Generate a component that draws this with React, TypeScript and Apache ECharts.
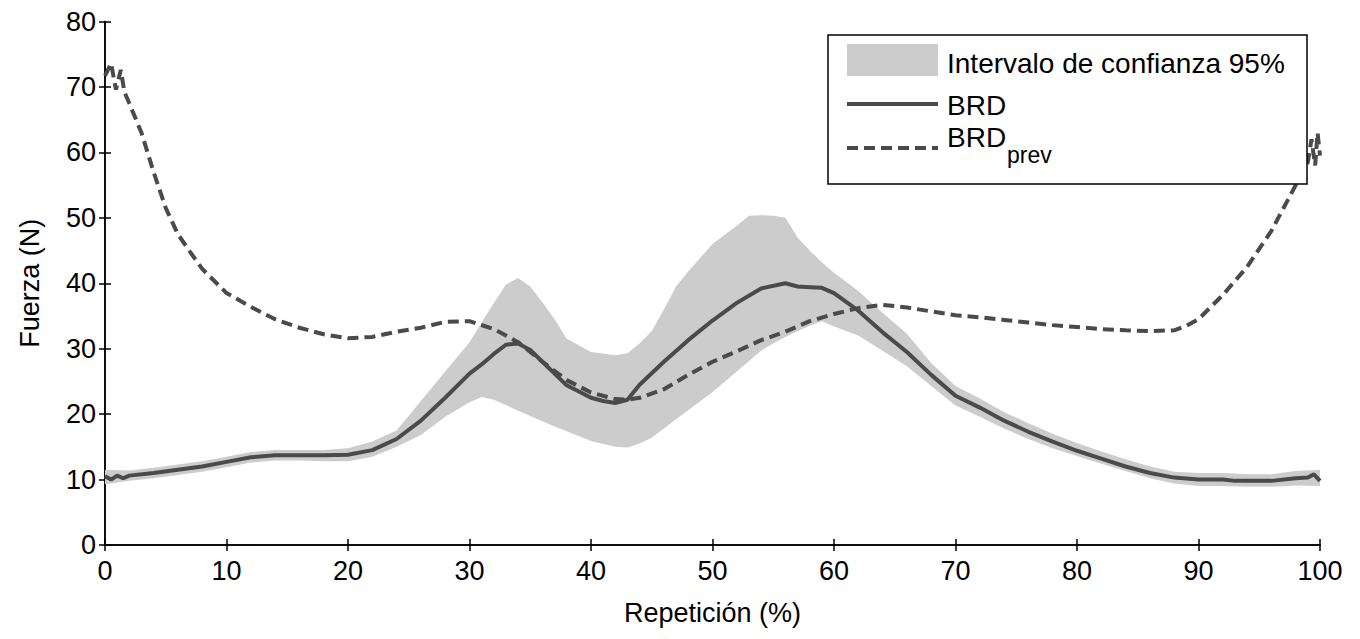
import React, { useEffect, useRef } from "react";
import * as echarts from "echarts";

const X_TICKS = [0, 10, 20, 30, 40, 50, 60, 70, 80, 90, 100];
const Y_TICKS = [0, 10, 20, 30, 40, 50, 60, 70, 80];

const X_BRD = [0, 0.5, 1, 1.5, 2, 4, 6, 8, 10, 12, 14, 16, 18, 20, 22, 24, 26, 28, 30, 31, 32, 33, 34, 35, 36, 38, 40, 41, 42, 43, 44, 46, 48, 50, 52, 54, 56, 57, 58, 59, 60, 62, 64, 66, 68, 70, 72, 74, 76, 78, 80, 82, 84, 86, 88, 90, 92, 93, 94, 96, 98, 99, 99.5, 100];
const BRD = [10.5, 10, 10.6, 10.2, 10.6, 11, 11.5, 12, 12.7, 13.4, 13.7, 13.7, 13.7, 13.8, 14.5, 16.2, 19, 22.5, 26.2, 27.6, 29.2, 30.6, 30.8, 29.8, 28, 24.4, 22.5, 22, 21.7, 22.2, 24.5, 28, 31.3, 34.3, 37, 39.2, 40, 39.5, 39.4, 39.3, 38.5, 35.8, 32.5, 29.5, 26, 22.8, 21, 19, 17.3, 15.8, 14.4, 13.2, 12, 11, 10.3, 10, 10, 9.8, 9.8, 9.8, 10.2, 10.3, 10.8, 9.8];

const X_PREV = [0, 0.5, 0.9, 1.3, 1.6, 2, 3, 4, 5, 6, 7, 8, 10, 12, 14, 16, 18, 20, 22, 24, 26, 28, 30, 32, 34, 36, 38, 40, 42, 43, 44, 46, 48, 50, 52, 54, 56, 58, 60, 62, 64, 66, 68, 70, 72, 74, 76, 78, 80, 82, 84, 86, 88, 89, 90, 92, 94, 96, 97, 98, 99, 99.3, 99.6, 99.8, 100];
const BRD_PREV = [71.7, 73.6, 69.6, 72.6, 69.2, 67.5, 63, 57, 51.5, 47.5, 44.8, 42.2, 38.5, 36.4, 34.5, 33.2, 32.2, 31.6, 31.8, 32.6, 33.2, 34.1, 34.2, 33, 31, 28, 25.2, 23.3, 22.3, 22.2, 22.5, 23.8, 26, 28, 29.6, 31.3, 32.6, 34.2, 35.3, 36.2, 36.7, 36.3, 35.7, 35.1, 34.8, 34.4, 34, 33.6, 33.3, 33, 32.8, 32.7, 32.8, 33.5, 34.5, 38.2, 42.5, 48, 51.5, 55, 58.5, 62, 58, 63, 59.5];

const X_BAND = [0, 2, 4, 6, 8, 10, 12, 14, 16, 18, 20, 22, 24, 26, 28, 30, 31, 32, 33, 34, 35, 36, 37, 38, 40, 42, 43, 44, 45, 46, 47, 48, 50, 52, 53, 54, 55, 56, 57, 58, 59, 60, 62, 64, 66, 68, 70, 72, 74, 76, 78, 80, 82, 84, 86, 88, 90, 92, 94, 96, 98, 100];
const BAND_LOW = [9.3, 9.8, 10.2, 10.7, 11.2, 11.9, 12.6, 12.9, 12.9, 12.8, 12.8, 13.5, 15, 16.8, 19.6, 21.8, 22.6, 22.2, 21.4, 20.5, 19.7, 18.9, 18.1, 17.4, 15.9, 15, 14.9, 15.5, 16.4, 17.8, 19.2, 20.6, 23.4, 26.5, 28.1, 29.7, 30.8, 31.8, 32.7, 33.5, 34.2, 33.4, 32, 29.7, 27.3, 24.3, 21.3, 19.6, 17.8, 16.2, 14.8, 13.6, 12.4, 11.3, 10.2, 9.4, 9, 9, 8.9, 8.9, 9.1, 9];
const BAND_HIGH = [11.5, 11.4, 11.8, 12.3, 12.8, 13.5, 14.2, 14.5, 14.5, 14.5, 14.8, 15.8, 17.5, 22, 26.5, 31, 34, 37, 39.8, 40.8, 39.5, 37.1, 34.5, 31.5, 29.5, 29, 29.3, 30.8, 32.7, 36, 39.5, 41.8, 46, 48.8, 50.3, 50.4, 50.3, 50, 47, 45, 43.2, 41.6, 38.8, 35.5, 32.3, 27.8, 24.3, 22.4, 20.3, 18.6, 17, 15.6, 14.3, 13.1, 12, 11.2, 11, 11, 10.8, 10.8, 11.3, 11.5];

const LEGEND_LABELS = ["Intervalo de confianza 95%", "BRD", "BRD", "prev"];

const FONT = "'Liberation Sans', Arial, sans-serif";
const LINE_COLOR = "#4a4a4a";
const BAND_COLOR = "#cccccc";
const FS = 27;
const LFS = 28;

export default function App() {
  const ref = useRef<HTMLDivElement>(null);
  useEffect(() => {
    if (!ref.current) return;
    const chart = echarts.init(ref.current, null, { renderer: "svg" });
    const pairs = (xs: number[], ys: number[]) => xs.map((x, i) => [x, ys[i]]);
    const axisCommon = {
      min: 0,
      axisLine: { show: true, lineStyle: { color: "#000", width: 1.5 } },
      axisTick: { show: true, inside: true, length: 6, lineStyle: { color: "#000", width: 1.5 } },
      splitLine: { show: false },
    };
    const option: any = {
      animation: false,
      backgroundColor: "#fff",
      grid: { left: 89, right: 32, top: 9, bottom: 73, containLabel: false },
      xAxis: [
        {
          ...axisCommon,
          type: "value",
          max: 100,
          interval: 10,
          position: "bottom",
          axisLabel: {
            color: "#000",
            fontSize: FS,
            fontFamily: FONT,
            margin: 12,
            formatter: (v: number) => (X_TICKS.includes(v) ? String(v) : ""),
          },
          name: "Repetición (%)",
          nameLocation: "middle",
          nameGap: 54,
          nameTextStyle: { color: "#000", fontSize: FS, fontFamily: FONT },
        },
        {
          ...axisCommon,
          type: "value",
          max: 100,
          interval: 10,
          position: "top",
          axisLabel: { show: false },
        },
      ],
      yAxis: [
        {
          ...axisCommon,
          type: "value",
          max: 80,
          interval: 10,
          position: "left",
          axisLabel: {
            color: "#000",
            fontSize: FS,
            fontFamily: FONT,
            margin: 9,
            formatter: (v: number) => (Y_TICKS.includes(v) ? String(v) : ""),
          },
          name: "Fuerza (N)",
          nameLocation: "middle",
          nameGap: 62,
          nameTextStyle: { color: "#000", fontSize: FS, fontFamily: FONT },
        },
        {
          ...axisCommon,
          type: "value",
          max: 80,
          interval: 10,
          position: "right",
          axisLabel: { show: false },
        },
      ],
      series: [
        {
          name: "Intervalo de confianza 95%",
          type: "custom",
          data: [[0, 0]],
          silent: true,
          z: 1,
          renderItem: (params: any, api: any) => {
            if (params.dataIndex !== 0) return null;
            const upper = X_BAND.map((x, i) => api.coord([x, BAND_HIGH[i]]));
            const lower = X_BAND.map((x, i) => api.coord([x, BAND_LOW[i]])).reverse();
            return {
              type: "polygon",
              shape: { points: upper.concat(lower) },
              style: { fill: BAND_COLOR, stroke: "none" },
            };
          },
        },
        {
          name: "BRD_prev",
          type: "line",
          data: pairs(X_PREV, BRD_PREV),
          showSymbol: false,
          symbol: "none",
          lineStyle: { color: LINE_COLOR, width: 4, type: [11, 6] },
          z: 3,
        },
        {
          name: "BRD",
          type: "line",
          data: pairs(X_BRD, BRD),
          showSymbol: false,
          symbol: "none",
          lineStyle: { color: LINE_COLOR, width: 4 },
          z: 4,
        },
      ],
      graphic: [
        { type: "rect", z: 100, shape: { x: 820, y: 27, width: 479, height: 149 }, style: { fill: "#fff", stroke: "#000", lineWidth: 1.5 } },
        { type: "rect", z: 101, shape: { x: 839, y: 36, width: 91, height: 32 }, style: { fill: BAND_COLOR } },
        { type: "line", z: 101, shape: { x1: 839, y1: 96, x2: 930, y2: 96 }, style: { stroke: LINE_COLOR, lineWidth: 4 } },
        { type: "line", z: 101, shape: { x1: 839, y1: 140, x2: 930, y2: 140 }, style: { stroke: LINE_COLOR, lineWidth: 4, lineDash: [11, 6] } },
        { type: "text", z: 101, x: 939, y: 55, style: { text: LEGEND_LABELS[0], fill: "#000", font: `${LFS}px ${FONT}`, verticalAlign: "middle" } },
        { type: "text", z: 101, x: 939, y: 97, style: { text: LEGEND_LABELS[1], fill: "#000", font: `${LFS}px ${FONT}`, verticalAlign: "middle" } },
        { type: "text", z: 101, x: 939, y: 129, style: { text: LEGEND_LABELS[2], fill: "#000", font: `${LFS}px ${FONT}`, verticalAlign: "middle" } },
        { type: "text", z: 101, x: 999, y: 147, style: { text: LEGEND_LABELS[3], fill: "#000", font: `23px ${FONT}`, verticalAlign: "middle" } },
      ],
    };
    chart.setOption(option);
    return () => chart.dispose();
  }, []);
  return <div ref={ref} style={{ width: 1344, height: 623 }} />;
}
